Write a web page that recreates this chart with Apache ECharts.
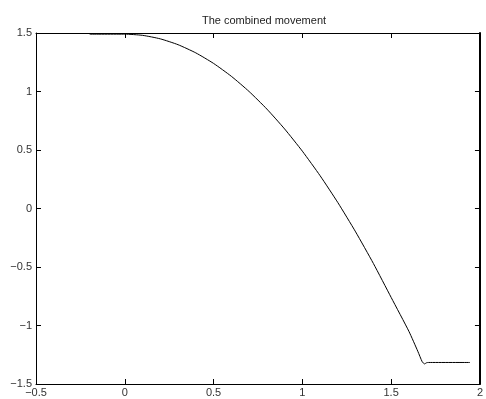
<!DOCTYPE html>
<html><head><meta charset="utf-8">
<script src="https://cdn.jsdelivr.net/npm/echarts@6/dist/echarts.min.js"></script>
<style>html,body{margin:0;padding:0;background:#fff}#c{width:486px;height:399px}</style>
</head><body><div id="c"></div>
<script>
var titleText = 'The combined movement';
var xTicks = [-0.5, 0, 0.5, 1, 1.5, 2];
var yTicks = [-1.5, -1, -0.5, 0, 0.5, 1, 1.5];
var xs = [-0.198, 0.0, 0.1, 0.2, 0.3, 0.4, 0.5, 0.6, 0.7, 0.8, 0.9, 1.0, 1.1, 1.2, 1.3, 1.4, 1.5, 1.6, 1.65, 1.675, 1.688, 1.70, 1.71, 1.944];
var ys = [1.49, 1.49, 1.48, 1.45, 1.40, 1.33, 1.24, 1.13, 1.00, 0.85, 0.68, 0.49, 0.28, 0.05, -0.20, -0.47, -0.76, -1.05, -1.22, -1.31, -1.328, -1.318, -1.316, -1.316];

var data = xs.map(function(x, i){ return [x, ys[i]]; });
function fmt(v){ var s = String(v); return v < 0 ? '\u2212' + s.slice(1) : s; }
var font = 'Liberation Sans';
var lbl = {color:'#333', fontSize:11, fontFamily:font};
var axLine = {show:true, onZero:false, lineStyle:{color:'#000', width:1}};
var tick = {show:true, inside:true, length:5, lineStyle:{color:'#000'}};
var chart = echarts.init(document.getElementById('c'), null, {renderer:'canvas'});
chart.setOption({
  animation:false,
  title:{text:titleText, left:259, top:10, textAlign:'center', textStyle:{fontSize:11, fontWeight:'normal', color:'#222', fontFamily:font}},
  grid:{left:36, right:3, top:33, bottom:15, containLabel:false},
  xAxis:[
    {type:'value', min:-0.5, max:2, interval:0.5, position:'bottom', axisLine:axLine, axisTick:tick,
     splitLine:{show:false}, axisLabel:Object.assign({margin:3, formatter:fmt}, lbl)},
    {type:'value', min:-0.5, max:2, interval:0.5, position:'top', axisLine:axLine, axisTick:tick,
     splitLine:{show:false}, axisLabel:{show:false}}
  ],
  yAxis:[
    {type:'value', min:-1.5, max:1.5, interval:0.5, position:'left', axisLine:axLine, axisTick:tick,
     splitLine:{show:false}, axisLabel:Object.assign({margin:4, formatter:fmt}, lbl)},
    {type:'value', min:-1.5, max:1.5, interval:0.5, position:'right', axisLine:{show:true, onZero:false, lineStyle:{color:'#000', width:2}}, axisTick:tick,
     splitLine:{show:false}, axisLabel:{show:false}}
  ],
  series:[{type:'line', data:data, xAxisIndex:0, yAxisIndex:0, showSymbol:false, smooth:0.2,
    lineStyle:{color:'#000', width:1}}]
});
</script></body></html>
